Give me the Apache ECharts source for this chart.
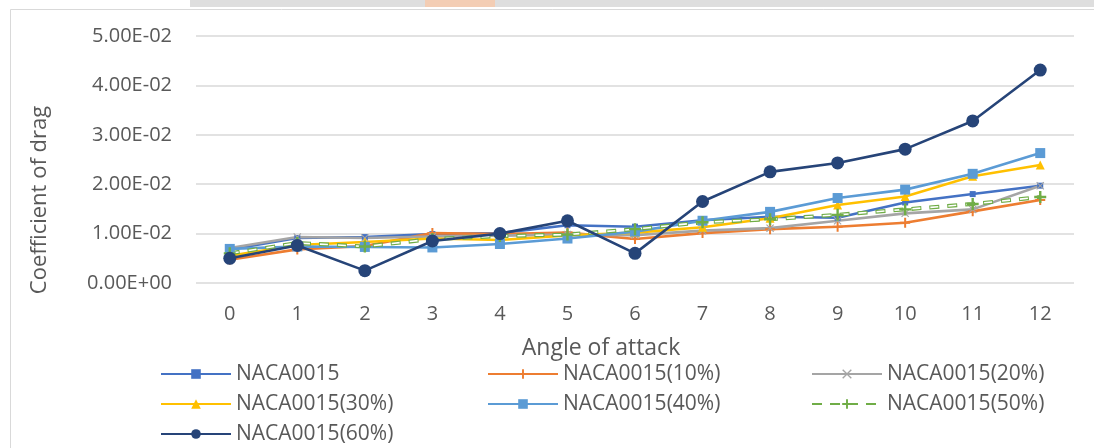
<!DOCTYPE html>
<html>
<head>
<meta charset="utf-8">
<script src="https://cdn.jsdelivr.net/npm/echarts@6/dist/echarts.min.js"></script>
<style>
  html, body { margin: 0; padding: 0; background: #fff; }
  #chart { width: 1094px; height: 448px; }
</style>
</head>
<body>
<div id="chart"></div>
<script>
// angle of attack
var angles = ['0', '1', '2', '3', '4', '5', '6', '7', '8', '9', '10', '11', '12'];

// drag coefficient per profile
var naca0015   = [0.0068, 0.0091, 0.0093, 0.0099, 0.0101, 0.0117, 0.0114, 0.0127, 0.0134, 0.0132, 0.0163, 0.0180, 0.0197];
var naca10     = [0.0047, 0.0068, 0.0075, 0.0101, 0.0099, 0.0102, 0.0089, 0.0101, 0.0109, 0.0114, 0.0122, 0.0145, 0.0168];
var naca20     = [0.0071, 0.0093, 0.0091, 0.0094, 0.0096, 0.0098, 0.0097, 0.0106, 0.0111, 0.0126, 0.0141, 0.0149, 0.0197];
var naca30     = [0.0055, 0.0077, 0.0083, 0.0090, 0.0087, 0.0096, 0.0102, 0.0113, 0.0131, 0.0158, 0.0175, 0.0216, 0.0239];
var naca40     = [0.0069, 0.0074, 0.0073, 0.0072, 0.0079, 0.0090, 0.0104, 0.0126, 0.0144, 0.0172, 0.0189, 0.0221, 0.0263];
var naca50     = [0.0060, 0.0081, 0.0074, 0.0089, 0.0095, 0.0098, 0.0109, 0.0123, 0.0129, 0.0138, 0.0149, 0.0160, 0.0174];
var naca60     = [0.0050, 0.0076, 0.0025, 0.0085, 0.0100, 0.0126, 0.0060, 0.0165, 0.0225, 0.0243, 0.0271, 0.0328, 0.0431];

var names = ['NACA0015', 'NACA0015(10%)', 'NACA0015(20%)', 'NACA0015(30%)', 'NACA0015(40%)', 'NACA0015(50%)', 'NACA0015(60%)'];

var FONT = '"Open Sans", "Noto Sans", sans-serif';
var TXT = '#595959';

var plusPath = 'path://M4,0H6V10H4ZM0,4H10V6H0Z';
var crossPath = 'path://M0,1L1,0L5,4L9,0L10,1L6,5L10,9L9,10L5,6L1,10L0,9L4,5Z';

// 5.00E-02 style labels
function sci(v) {
  if (v === 0) return '0.00E+00';
  var s = v.toExponential(2).toUpperCase();
  var parts = s.split('E');
  var sign = parts[1].charAt(0);
  var exp = parts[1].slice(1);
  if (exp.length < 2) exp = '0' + exp;
  return parts[0] + 'E' + sign + exp;
}

function line(name, data, color, symbol, size, extra) {
  var s = {
    name: name,
    type: 'line',
    data: data,
    symbol: symbol,
    symbolSize: size,
    showAllSymbol: true,
    lineStyle: { color: color, width: 2.6 },
    itemStyle: { color: color },
    z: 3
  };
  if (extra) Object.assign(s, extra);
  return s;
}

var legendText = { fontFamily: FONT, fontSize: 21, color: TXT, lineHeight: 22 };

function legendCol(list, left) {
  return {
    data: list,
    orient: 'vertical',
    left: left, top: 363,
    padding: 0,
    itemWidth: 70, itemHeight: 12, itemGap: 8,
    textStyle: legendText
  };
}

var option = {
  animation: false,
  backgroundColor: '#fff',
  grid: { left: 196, right: 20, top: 36, bottom: 165 },
  xAxis: {
    type: 'category',
    data: angles,
    boundaryGap: true,
    axisLine: { show: false },
    axisTick: { show: false },
    axisLabel: { fontFamily: FONT, fontSize: 20, color: TXT, margin: 21 }
  },
  yAxis: {
    type: 'value',
    min: 0,
    max: 0.05,
    interval: 0.01,
    axisLine: { show: false },
    axisTick: { show: false },
    axisLabel: { fontFamily: FONT, fontSize: 20, color: TXT, margin: 24, formatter: sci },
    splitLine: { lineStyle: { color: '#D9D9D9', width: 1.5 } }
  },
  legend: [
    legendCol([names[0], names[3], names[6]], 160),
    legendCol([names[1], names[4]], 487),
    legendCol([names[2], names[5]], 811)
  ],
  graphic: [
    { type: 'rect', left: 190, top: 0, shape: { width: 904, height: 7 }, style: { fill: '#DEDEDE' }, silent: true },
    { type: 'rect', left: 425, top: 0, shape: { width: 70, height: 7 }, style: { fill: '#F3CDB4' }, silent: true },
    { type: 'rect', left: 8, top: 7, shape: { x: 0.5, y: 0.5, width: 1100, height: 460 }, style: { fill: 'none', stroke: '#D9D9D9', lineWidth: 1 }, silent: true },
    {
      type: 'text', x: 601, y: 348,
      style: { text: 'Angle of attack', font: '23px ' + FONT, fill: TXT, align: 'center', verticalAlign: 'middle' }
    },
    {
      type: 'text', x: 40, y: 200, rotation: Math.PI / 2,
      style: { text: 'Coefficient of drag', font: '22px ' + FONT, fill: TXT, align: 'center', verticalAlign: 'middle' }
    }
  ],
  series: [
    line(names[0], naca0015, '#4472C4', 'rect', 6),
    line(names[1], naca10, '#ED7D31', plusPath, 10),
    line(names[2], naca20, '#A5A5A5', crossPath, 8),
    line(names[3], naca30, '#FFC000', 'triangle', 9),
    line(names[4], naca40, '#5B9BD5', 'rect', 10),
    line(names[5], naca50, '#70AD47', plusPath, 12, {
      lineStyle: { color: '#70AD47', width: 4, type: [10, 8] }
    }),
    // white core on the dashes so they look hollow like the original
    {
      name: 'naca50core',
      type: 'line',
      data: naca50,
      symbol: 'none',
      silent: true,
      lineStyle: { color: '#ffffff', width: 1.6, type: [8, 10], dashOffset: -1 },
      z: 3
    },
    line(names[6], naca60, '#264478', 'circle', 13, { z: 4 })
  ]
};

var chart = echarts.init(document.getElementById('chart'));
chart.setOption(option);
</script>
</body>
</html>
